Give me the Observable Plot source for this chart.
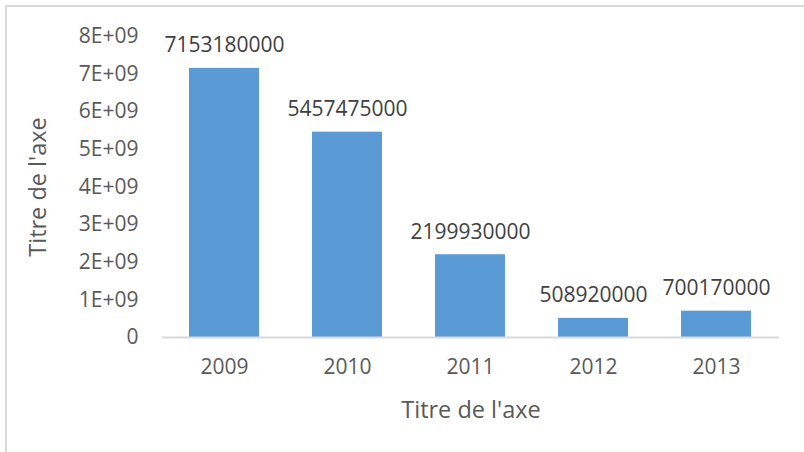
<!DOCTYPE html>
<html><head><meta charset="utf-8">
<script src="https://cdn.jsdelivr.net/npm/d3@7"></script>
<script src="https://cdn.jsdelivr.net/npm/@observablehq/plot@0.6"></script>
<style>
html,body{margin:0;padding:0;background:#fff;overflow:hidden;}
#wrap{position:relative;width:804px;height:452px;}
#border{position:absolute;left:5px;top:5px;width:820px;height:470px;border-left:2px solid #d9d9d9;border-top:2px solid #d9d9d9;box-sizing:border-box;}
#chart{position:absolute;left:0;top:0;}
</style></head>
<body><div id="wrap"><div id="border"></div><div id="chart"></div></div>
<script>
const years = ["2009","2010","2011","2012","2013"];
const values = [7153180000, 5457475000, 2199930000, 508920000, 700170000];
const yTicks = [0,1e9,2e9,3e9,4e9,5e9,6e9,7e9,8e9];
const xTitle = "Titre de l'axe";
const yTitle = "Titre de l'axe";

const data = years.map((y,i)=>({year:y, value:values[i]}));
const fmt = v => v === 0 ? "0" : `${v/1e9}E+09`;

const chart = Plot.plot({
  width: 804, height: 452,
  marginLeft: 162, marginRight: 25, marginTop: 36, marginBottom: 115,
  style: {fontFamily: "'Open Sans', sans-serif", fontSize: "21px", color: "#595959", background: "transparent"},
  x: {domain: years, paddingInner: 0.43, paddingOuter: 0.215, label: null},
  y: {domain: [0, 8e9], label: null},
  marks: [
    Plot.barY(data, {x: "year", y: "value", fill: "#5b9bd5"}),
    Plot.ruleY([0], {stroke: "#d9d9d9", strokeWidth: 2}),
    Plot.text(data, {x: "year", y: "value", text: d => String(d.value), lineAnchor: "bottom", dy: -16, fill: "#404040", fontSize: 21}),
    Plot.axisY({ticks: yTicks, tickFormat: fmt, tickSize: 0, tickPadding: 24, label: null, fontSize: 21, fill: "#595959"}),
    Plot.axisX({tickSize: 0, tickPadding: 22, label: null, fontSize: 21, fill: "#595959"}),
    Plot.text([yTitle], {frameAnchor: "left", textAnchor: "middle", dx: -124, rotate: -90, fontSize: 23.5, fill: "#595959"}),
    Plot.text([xTitle], {frameAnchor: "bottom", dy: 80, fontSize: 23.5, fill: "#595959"})
  ]
});
document.getElementById("chart").appendChild(chart);
</script></body></html>
